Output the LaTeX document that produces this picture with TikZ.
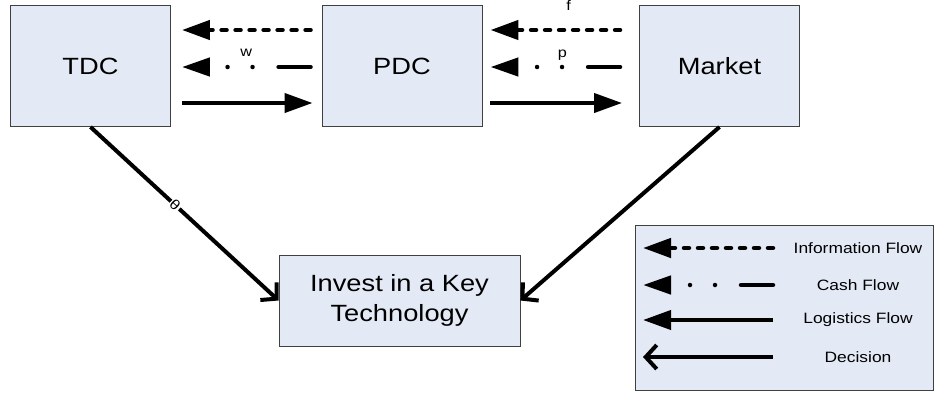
\documentclass[tikz,border=0pt]{standalone}
\usepackage{fontspec}
\setmainfont{Liberation Sans}[FakeStretch=1.16]
\usetikzlibrary{arrows.meta}
\definecolor{BoxFill}{HTML}{E4EAF5}
\definecolor{BoxLine}{HTML}{404040}

\begin{document}
\begin{tikzpicture}[x=1pt,y=-1pt,
    unit/.style={draw=BoxLine,fill=BoxFill,line width=0.9pt,
                 minimum width=160pt,minimum height=121pt,
                 font=\fontsize{23.5}{30}\selectfont},
    info/.style={-{Triangle[length=28pt,width=19pt]},line width=4.5pt,
                 line cap=round,dash pattern=on 5pt off 9pt},
    cash/.style={-{Triangle[length=28pt,width=18pt]},line width=4.5pt,
                 line cap=round,
                 dash pattern=on 32pt off 26pt on 0pt off 25pt on 0pt off 60pt},
    goods/.style={-{Triangle[length=28pt,width=19pt]},line width=4pt},
    decision/.style={-{Straight Barb[length=11pt,width=24pt]},line width=4pt},
    tag/.style={font=\fontsize{14}{14}\selectfont,inner sep=1pt}]
    \useasboundingbox (0,0) rectangle (935,392);

    % the three parties and the investment decision
    \node[unit] (tdc) at (90.5,66) {TDC};
    \node[unit] (pdc) at (402,66) {PDC};
    \node[unit] (market) at (719.5,66) {Market};
    \node[unit,minimum width=241pt,minimum height=91pt,align=center] (invest)
      at (399.5,300.5) {Invest in a Key\\Technology};

    % flows between TDC and PDC
    \draw[info,shorten <=11pt,shorten >=11pt]
      ([yshift=36pt]pdc.west) -- ([yshift=36pt]tdc.east);
    \draw[cash,shorten <=11pt,shorten >=11pt]
      ([yshift=-1pt]pdc.west) -- ([yshift=-1pt]tdc.east)
      node[tag,midway,above=7pt] (w) {w};
    \draw[goods,shorten <=11pt,shorten >=9pt]
      ([yshift=-37pt]tdc.east) -- ([yshift=-37pt]pdc.west);

    % flows between PDC and the market
    \draw[info,shorten <=19pt,shorten >=8pt]
      ([yshift=36pt]market.west) -- ([yshift=36pt]pdc.east)
      node[tag,pos=0.45,above=16pt] (f) {f};
    \draw[cash,shorten <=19pt,shorten >=8pt]
      ([yshift=-1pt]market.west) -- ([yshift=-1pt]pdc.east)
      node[tag,pos=0.49,above=3pt] (p) {p};
    \draw[goods,shorten <=8pt,shorten >=17pt]
      ([yshift=-37pt]pdc.east) -- ([yshift=-37pt]market.west);

    % decisions
    \draw[decision] (tdc.south) -- (invest.west)
      node[tag,pos=0.45,sloped,fill=white] (theta) {θ};
    \draw[decision] (market.south) -- (invest.east);

    % legend
    \node[draw=BoxLine,fill=BoxFill,line width=0.9pt,
          minimum width=298pt,minimum height=165pt] (legend) at (784,307.5) {};
    \foreach \s/\t/\y in {info/Information Flow/248,cash/Cash Flow/285,
                          goods/Logistics Flow/320,decision/Decision/357}{%
      \node[font=\fontsize{15}{15}\selectfont] (key-\s) at (858,\y) {\t};
      \draw[\s] (773,\y) -- (643,\y);
    }
\end{tikzpicture}
\end{document}
